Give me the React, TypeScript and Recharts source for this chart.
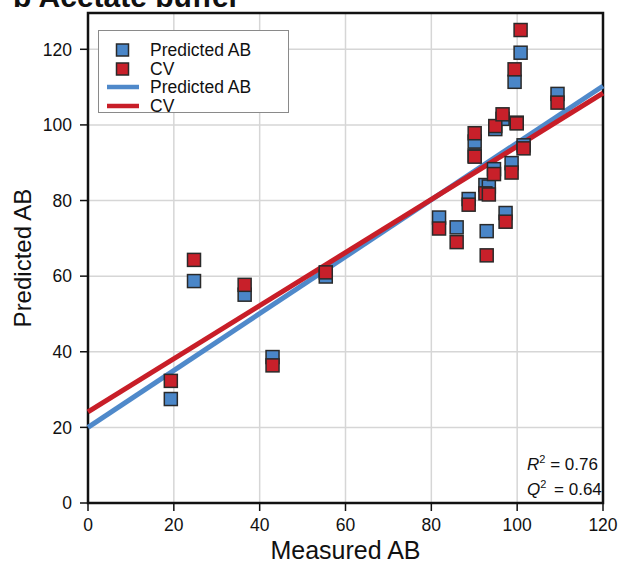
import {
  CartesianGrid,
  Label,
  Legend,
  ReferenceArea,
  Scatter,
  ScatterChart,
  XAxis,
  YAxis,
} from "recharts";

// measured value for each sample, with its two predictions
const measured = [
  19.3, 24.7, 36.5, 43.0, 55.4, 81.8, 85.9, 88.7, 90.1, 90.1, 92.6, 93.4,
  92.9, 94.6, 94.9, 96.6, 97.3, 98.7, 99.4, 99.9, 100.8, 101.5, 109.4,
];
const predictedAB = [
  27.5, 58.7, 55.1, 38.6, 59.9, 75.5, 72.9, 80.4, 91.9, 95.6, 84.1, 83.7,
  71.9, 88.3, 98.9, 101.6, 76.7, 89.9, 111.4, 100.6, 119.1, 94.6, 108.2,
];
const cvValues = [
  32.3, 64.3, 57.7, 36.4, 61.0, 72.6, 69.0, 78.9, 91.6, 97.8, 81.9, 81.6,
  65.5, 87.0, 99.7, 102.8, 74.4, 87.4, 114.7, 100.4, 125.1, 93.8, 105.9,
];

// fitted lines, end points
const fitX = [0, 120];
const fitPredicted = [20.0, 110.3];
const fitCV = [24.1, 108.4];

const xTicks = [0, 20, 40, 60, 80, 100, 120];
const yTicks = [0, 20, 40, 60, 80, 100, 120];

const BLUE = "#4A86C8";
const RED = "#C8202A";
const BLUE_LINE = "#4F89CA";
const RED_LINE = "#C81E28";
const FONT = "'Liberation Sans', Arial, sans-serif";

const legendItems = [
  { label: "Predicted AB", kind: "square", color: BLUE },
  { label: "CV", kind: "square", color: RED },
  { label: "Predicted AB", kind: "line", color: BLUE_LINE },
  { label: "CV", kind: "line", color: RED_LINE },
];

const pts = (ys: number[]) => measured.map((x, i) => ({ x, y: ys[i] }));
const fit = (ys: number[]) => fitX.map((x, i) => ({ x, y: ys[i] }));

const square = (fill: string) => (p: any) =>
  (
    <rect
      x={p.cx - 6.5}
      y={p.cy - 6.5}
      width={13}
      height={13}
      fill={fill}
      stroke="#2a2a2a"
      strokeWidth={1.5}
    />
  );

function LegendBox() {
  return (
    <div
      style={{
        width: 191,
        height: 83,
        boxSizing: "border-box",
        border: "1px solid #8a8a8a",
        background: "#fff",
        paddingTop: 10,
        fontFamily: FONT,
        fontSize: 17.5,
        color: "#111",
      }}
    >
      {legendItems.map((it, i) => (
        <div
          key={i}
          style={{ display: "flex", alignItems: "center", height: 18.5 }}
        >
          <svg width={51} height={18} style={{ flex: "none" }}>
            {it.kind === "square" ? (
              <rect
                x={17.5}
                y={3}
                width={12}
                height={12}
                fill={it.color}
                stroke="#2a2a2a"
                strokeWidth={1.5}
              />
            ) : (
              <line x1={8} x2={40} y1={9} y2={9} stroke={it.color} strokeWidth={4.5} />
            )}
          </svg>
          <span style={{ lineHeight: "18px" }}>{it.label}</span>
        </div>
      ))}
    </div>
  );
}

export default function App() {
  return (
    <div style={{ position: "absolute", left: 0, top: 0, width: 622, height: 570, background: "#fff" }}>
      <ScatterChart
        width={622}
        height={570}
        margin={{ top: 13, right: 19, bottom: 0, left: 0 }}
      >
        <CartesianGrid stroke="#d6d6d6" strokeWidth={1.5} />
        <XAxis
          type="number"
          dataKey="x"
          domain={[0, 120]}
          ticks={xTicks}
          height={67}
          tickSize={8}
          tickMargin={8}
          axisLine={{ stroke: "#111", strokeWidth: 2 }}
          tickLine={{ stroke: "#111", strokeWidth: 1.5 }}
          tick={{ fill: "#111", fontSize: 17.5, fontFamily: FONT }}
        >
          <Label
            content={(props: any) => {
              const vb = props.viewBox;
              return (
                <text
                  x={vb.x + vb.width / 2}
                  y={vb.y + vb.height - 11}
                  textAnchor="middle"
                  fontFamily={FONT}
                  fontSize={25}
                  fill="#111"
                >
                  Measured AB
                </text>
              );
            }}
          />
        </XAxis>
        <YAxis
          type="number"
          dataKey="y"
          domain={[0, 129.6]}
          ticks={yTicks}
          width={88}
          tickSize={8}
          tickMargin={8}
          axisLine={{ stroke: "#111", strokeWidth: 2 }}
          tickLine={{ stroke: "#111", strokeWidth: 1.5 }}
          tick={{ fill: "#111", fontSize: 17.5, fontFamily: FONT }}
        >
          <Label
            content={(props: any) => {
              const vb = props.viewBox;
              const cx = vb.x + 31;
              const cy = vb.y + vb.height / 2;
              return (
                <text
                  x={cx}
                  y={cy}
                  transform={`rotate(-90 ${cx} ${cy})`}
                  textAnchor="middle"
                  fontFamily={FONT}
                  fontSize={24}
                  fill="#111"
                >
                  Predicted AB
                </text>
              );
            }}
          />
        </YAxis>
        <ReferenceArea
          x1={0}
          x2={120}
          y1={0}
          y2={129.6}
          fill="none"
          stroke="#111"
          strokeWidth={2.5}
          ifOverflow="visible"
        />
        <Scatter
          data={fit(fitPredicted)}
          line={{ stroke: BLUE_LINE, strokeWidth: 5 }}
          shape={() => <g />}
          legendType="none"
          isAnimationActive={false}
        />
        <Scatter
          data={fit(fitCV)}
          line={{ stroke: RED_LINE, strokeWidth: 5 }}
          shape={() => <g />}
          legendType="none"
          isAnimationActive={false}
        />
        <Scatter data={pts(predictedAB)} shape={square(BLUE)} isAnimationActive={false} />
        <Scatter data={pts(cvValues)} shape={square(RED)} isAnimationActive={false} />
        <Legend
          layout="vertical"
          align="center"
          verticalAlign="middle"
          wrapperStyle={{ position: "absolute", left: 98, top: 30, width: 191 }}
          content={() => <LegendBox />}
        />
      </ScatterChart>
      <svg
        width={622}
        height={570}
        style={{ position: "absolute", left: 0, top: 0, pointerEvents: "none" }}
        fontFamily={FONT}
        fill="#111"
      >
        <text x={13} y={7} fontSize={30} fontWeight="bold">
          b Acetate buffer
        </text>
        <text x={527} y={470} fontSize={17}>
          <tspan fontStyle="italic">R</tspan>
          <tspan fontSize={11} dy={-7}>2</tspan>
          <tspan dy={7}> = 0.76</tspan>
        </text>
        <text x={527} y={495} fontSize={17}>
          <tspan fontStyle="italic">Q</tspan>
          <tspan fontSize={11} dy={-7}>2</tspan>
          <tspan dy={7} dx={3}> = 0.64</tspan>
        </text>
      </svg>
    </div>
  );
}
